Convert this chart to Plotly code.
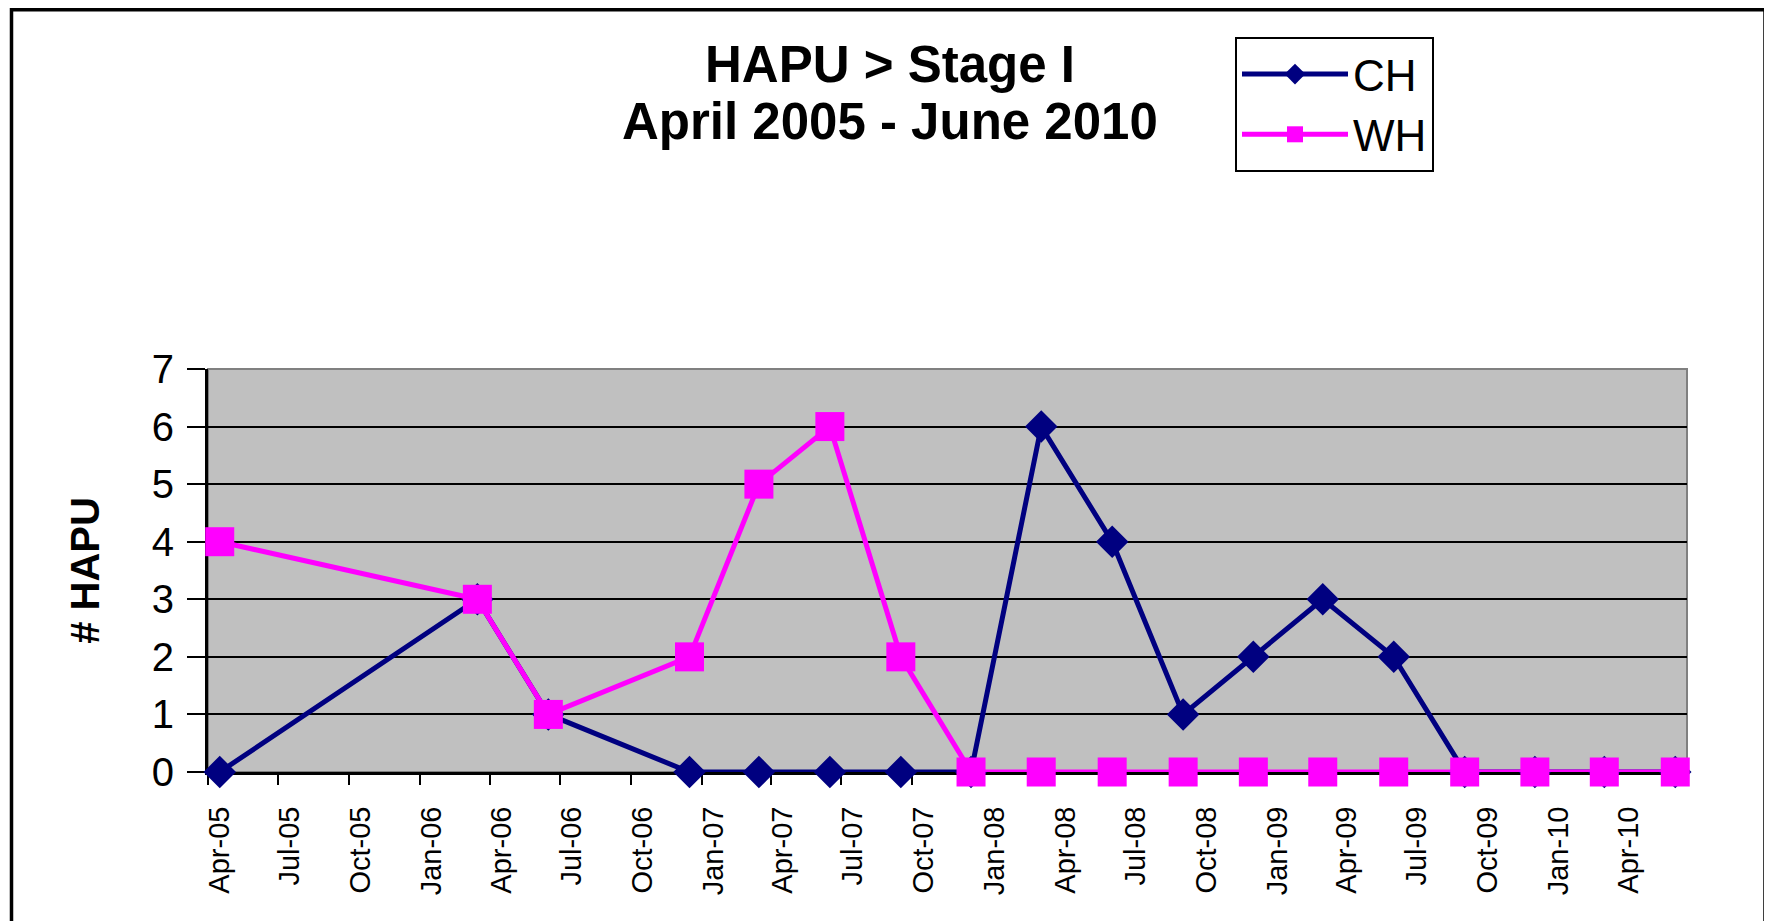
import pandas as pd
import plotly.graph_objects as go

# ---- data ----
months = ["2005-04", "2006-03", "2006-06", "2006-12", "2007-03", "2007-06",
          "2007-09", "2007-12", "2008-03", "2008-06", "2008-09", "2008-12",
          "2009-03", "2009-06", "2009-09", "2009-12", "2010-03", "2010-06"]
ch_values = [0, 3, 1, 0, 0, 0, 0, 0, 6, 4, 1, 2, 3, 2, 0, 0, 0, 0]
wh_values = [4, 3, 1, 2, 5, 6, 2, 0, 0, 0, 0, 0, 0, 0, 0, 0, 0, 0]
tick_months = ["2005-04", "2005-07", "2005-10", "2006-01", "2006-04", "2006-07",
               "2006-10", "2007-01", "2007-04", "2007-07", "2007-10", "2008-01",
               "2008-04", "2008-07", "2008-10", "2009-01", "2009-04", "2009-07",
               "2009-10", "2010-01", "2010-04"]
tick_labels = ["Apr-05", "Jul-05", "Oct-05", "Jan-06", "Apr-06", "Jul-06",
               "Oct-06", "Jan-07", "Apr-07", "Jul-07", "Oct-07", "Jan-08",
               "Apr-08", "Jul-08", "Oct-08", "Jan-09", "Apr-09", "Jul-09",
               "Oct-09", "Jan-10", "Apr-10"]
y_ticks = [0, 1, 2, 3, 4, 5, 6, 7]
y_grid = [1, 2, 3, 4, 5, 6]
series_names = ["CH", "WH"]
title_lines = ["HAPU > Stage I", "April 2005 - June 2010"]
y_title = "# HAPU"

x_dates = pd.to_datetime(months)
tick_dates = pd.to_datetime(tick_months)
half_month = pd.Timedelta(hours=365)
boundary_ticks = [d - half_month for d in tick_dates]
x_range = [tick_dates[0] - half_month, x_dates[-1] + half_month]

# page body has an 8px margin; figure coordinates are page coordinates minus OFF
OFF = 8
W, H = 1772 - 2 * OFF, 921 - OFF
L = 208 - OFF
R = W - (1687 - OFF)
T = 369 - OFF
B = H - (772 - OFF)
PW, PH = W - L - R, H - T - B

FONT = "Liberation Sans, Arial, sans-serif"
NAVY = "#000080"
MAGENTA = "#FF00FF"

fig = go.Figure()
fig.add_trace(go.Scatter(
    x=x_dates, y=ch_values, name=series_names[0], mode="lines+markers",
    line=dict(color=NAVY, width=5),
    marker=dict(symbol="diamond", size=25, color=NAVY),
    cliponaxis=False,
))
fig.add_trace(go.Scatter(
    x=x_dates, y=wh_values, name=series_names[1], mode="lines+markers",
    line=dict(color=MAGENTA, width=5),
    marker=dict(symbol="square", size=29, color=MAGENTA),
    cliponaxis=False,
))

fig.update_layout(
    width=W, height=H,
    margin=dict(l=L, r=R, t=T, b=B, autoexpand=False),
    paper_bgcolor="white",
    plot_bgcolor="#C0C0C0",
    font=dict(family=FONT, color="black"),
    legend=dict(
        x=(1235 - OFF) / W, y=1 - (37 - OFF) / H, xref="container", yref="container",
        xanchor="left", yanchor="top",
        bordercolor="black", borderwidth=2, bgcolor="white",
        font=dict(size=44, family=FONT, color="black"),
        tracegroupgap=0, itemwidth=106,
    ),
    showlegend=True,
)

# two-line chart title
for line_txt, ypix in zip(title_lines, [64, 121]):
    fig.add_annotation(
        text="<b>" + line_txt + "</b>", showarrow=False,
        xref="paper", yref="paper",
        x=(890 - OFF - L) / PW, y=(H - B - (ypix - OFF)) / PH,
        xanchor="center", yanchor="middle",
        font=dict(size=51, family=FONT, color="black"),
    )

fig.update_xaxes(
    type="date", range=x_range,
    tickmode="array", tickvals=tick_dates, ticktext=tick_labels,
    tickangle=-90, ticks="", tickfont=dict(size=29, family=FONT, color="black"),
    ticklabelstandoff=20,
    minor=dict(tickmode="array", tickvals=boundary_ticks, ticks="outside",
               ticklen=10, tickwidth=2, tickcolor="black", showgrid=False),
    showgrid=False, zeroline=False,
    showline=True, linecolor="black", linewidth=3,
    layer="below traces", automargin=False,
)
fig.update_yaxes(
    range=[0, 7], tickmode="array", tickvals=y_ticks,
    ticks="outside", ticklen=18, tickwidth=2, tickcolor="black",
    tickfont=dict(size=40, family=FONT, color="black"),
    ticklabelstandoff=5,
    showgrid=False, zeroline=False,
    minor=dict(tickmode="array", tickvals=y_grid, ticks="", showgrid=True,
               gridcolor="black", gridwidth=2),
    showline=True, linecolor="black", linewidth=3,
    title=dict(text="<b>" + y_title + "</b>", font=dict(size=40, family=FONT, color="black"),
               standoff=40),
    layer="below traces", automargin=False,
)

# gray top/right frame of the plot area
fig.add_shape(type="rect", xref="paper", yref="paper", x0=0, x1=1, y0=0, y1=1,
              line=dict(color="#808080", width=2), fillcolor="rgba(0,0,0,0)", layer="below")
# outer chart border (top edge kept just inside the figure)
fig.add_shape(type="rect", xref="paper", yref="paper",
              x0=(11.5 - OFF - L) / PW, x1=(1765 - OFF - L) / PW,
              y0=(H - B - (960 - OFF)) / PH, y1=(H - B - (OFF + 1.8 - OFF)) / PH,
              line=dict(color="black", width=3.5), fillcolor="rgba(0,0,0,0)", layer="above")

fig.write_html("out.html")
